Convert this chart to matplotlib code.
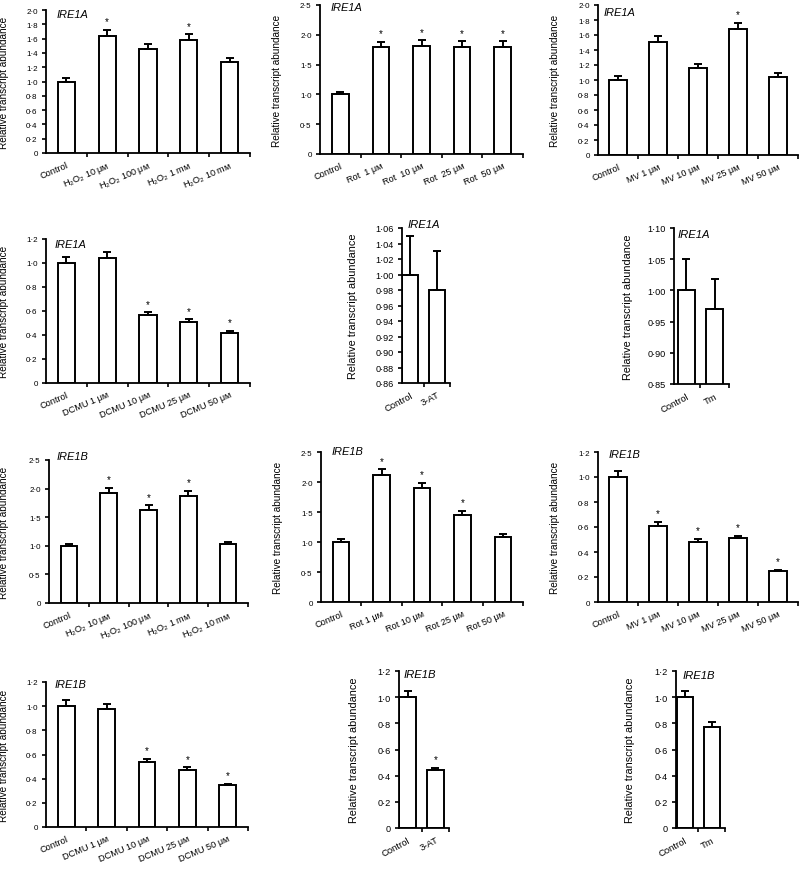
import matplotlib
matplotlib.use("Agg")
import matplotlib.pyplot as plt
from matplotlib.ticker import FixedLocator, FuncFormatter, NullFormatter

plt.rcParams['font.family'] = ['Liberation Sans', 'DejaVu Sans']
plt.rcParams['mathtext.fontset'] = 'custom'
plt.rcParams['mathtext.rm'] = 'Liberation Sans'
plt.rcParams['mathtext.it'] = 'Liberation Sans:italic'

# ---------------- data ----------------
h2o2_labels = ['Control', 'H$_2$O$_2$ 10 μᴍ', 'H$_2$O$_2$ 100 μᴍ', 'H$_2$O$_2$ 1 mᴍ', 'H$_2$O$_2$ 10 mᴍ']
rot_labels_a = ['Control', 'Rot  1 μᴍ', 'Rot  10 μᴍ', 'Rot  25 μᴍ', 'Rot  50 μᴍ']
rot_labels_b = ['Control', 'Rot 1 μᴍ', 'Rot 10 μᴍ', 'Rot 25 μᴍ', 'Rot 50 μᴍ']
mv_labels = ['Control', 'MV 1 μᴍ', 'MV 10 μᴍ', 'MV 25 μᴍ', 'MV 50 μᴍ']
dcmu_labels = ['Control', 'DCMU 1 μᴍ', 'DCMU 10 μᴍ', 'DCMU 25 μᴍ', 'DCMU 50 μᴍ']
at_labels = ['Control', '3-AT']
tm_labels = ['Control', 'Tm']

ire1a_h2o2 = [1.00, 1.64, 1.45, 1.58, 1.27]
ire1a_h2o2_err = [0.05, 0.08, 0.07, 0.08, 0.06]
ire1a_h2o2_sig = [0, 1, 0, 1, 0]

ire1a_rot = [1.00, 1.79, 1.82, 1.80, 1.80]
ire1a_rot_err = [0.04, 0.09, 0.09, 0.09, 0.09]
ire1a_rot_sig = [0, 1, 1, 1, 1]

ire1a_mv = [1.00, 1.51, 1.16, 1.68, 1.04]
ire1a_mv_err = [0.05, 0.08, 0.06, 0.08, 0.05]
ire1a_mv_sig = [0, 0, 0, 1, 0]

ire1a_dcmu = [1.00, 1.04, 0.565, 0.505, 0.415]
ire1a_dcmu_err = [0.05, 0.05, 0.025, 0.025, 0.02]
ire1a_dcmu_sig = [0, 0, 1, 1, 1]

ire1a_at = [1.00, 0.98]
ire1a_at_err = [0.05, 0.05]
ire1a_at_sig = [0, 0]

ire1a_tm = [1.00, 0.97]
ire1a_tm_err = [0.05, 0.048]
ire1a_tm_sig = [0, 0]

ire1b_h2o2 = [1.00, 1.92, 1.63, 1.87, 1.03]
ire1b_h2o2_err = [0.04, 0.09, 0.08, 0.09, 0.04]
ire1b_h2o2_sig = [0, 1, 1, 1, 0]

ire1b_rot = [1.00, 2.11, 1.90, 1.45, 1.08]
ire1b_rot_err = [0.05, 0.10, 0.09, 0.07, 0.05]
ire1b_rot_sig = [0, 1, 1, 1, 0]

ire1b_mv = [1.00, 0.61, 0.48, 0.51, 0.25]
ire1b_mv_err = [0.05, 0.03, 0.025, 0.02, 0.01]
ire1b_mv_sig = [0, 1, 1, 1, 1]

ire1b_dcmu = [1.00, 0.975, 0.54, 0.475, 0.345]
ire1b_dcmu_err = [0.05, 0.045, 0.025, 0.02, 0.015]
ire1b_dcmu_sig = [0, 0, 1, 1, 1]

ire1b_at = [1.00, 0.44]
ire1b_at_err = [0.05, 0.02]
ire1b_at_sig = [0, 1]

ire1b_tm = [1.00, 0.77]
ire1b_tm_err = [0.05, 0.04]
ire1b_tm_sig = [0, 0]

W, H = 800, 870
fig = plt.figure(figsize=(W / 100, H / 100), dpi=100)


def rect(x0, x1, yt, yb):
    return [x0 / W, 1 - yb / H, (x1 - x0) / W, (yb - yt) / H]


def fmt(dec):
    def f(v, pos):
        if abs(v) < 1e-9:
            return '0'
        return ('{:.%df}' % dec).format(v).replace('.', '·')
    return FuncFormatter(f)


def panel(r, title, labels, vals, errs, sig, ylim, ystep, dec, xlim, bw,
          tdx, tdy, ylab_x, rot=23, narrow=False):
    ax = fig.add_axes(rect(*r))
    n = len(vals)
    xs = list(range(n))
    tick_fs = 6.6 if narrow else 5.8
    xlab_fs = 6.8 if narrow else 6.6
    ylab_fs = 7.8 if narrow else 7.2
    title_fs = 8.1 if narrow else 7.9
    ax.bar(xs, vals, width=bw, color='white', edgecolor='black', linewidth=1.4, zorder=2)
    ax.errorbar(xs, vals, yerr=[[0] * n, errs], fmt='none', ecolor='black',
                elinewidth=1.4, capsize=3, capthick=1.4, zorder=3)
    for x, v, e, s in zip(xs, vals, errs, sig):
        if s:
            ax.annotate('*', xy=(x, v + e), xytext=(0, 2.5), textcoords='offset points',
                        ha='center', va='bottom', fontsize=7)
    ax.set_xlim(*xlim)
    ax.set_ylim(*ylim)
    nt = int(round((ylim[1] - ylim[0]) / ystep))
    ax.yaxis.set_major_locator(FixedLocator([ylim[0] + i * ystep for i in range(nt + 1)]))
    ax.yaxis.set_major_formatter(fmt(dec))
    bounds = [i + 0.5 for i in range(n - 1)] + [xlim[1]]
    ax.xaxis.set_major_locator(FixedLocator(bounds))
    ax.xaxis.set_major_formatter(NullFormatter())
    ax.xaxis.set_minor_locator(FixedLocator(xs))
    ax.set_xticklabels(labels, minor=True, rotation=rot, ha='right',
                       rotation_mode='anchor', fontsize=xlab_fs)
    ax.tick_params(axis='x', which='minor', length=0, pad=5)
    ax.tick_params(axis='x', which='major', length=3, width=1.2, direction='out')
    ax.tick_params(axis='y', which='major', length=3, width=1.2, direction='out',
                   labelsize=tick_fs, pad=3)
    for s in ['top', 'right']:
        ax.spines[s].set_visible(False)
    for s in ['left', 'bottom']:
        ax.spines[s].set_linewidth(1.3)
    ax.set_ylabel('Relative transcript abundance', fontsize=ylab_fs)
    ax.yaxis.set_label_coords((ylab_x - r[0]) / (r[1] - r[0]), 0.5)
    ax.annotate(title, xy=(0, 1), xycoords='axes fraction',
                xytext=(tdx * 0.72, tdy * 0.72), textcoords='offset points',
                ha='left', va='center', fontsize=title_fs, style='italic')
    return ax


five = (-0.5, 4.5)
panel((46, 250, 11, 154), 'IRE1A', h2o2_labels, ire1a_h2o2, ire1a_h2o2_err, ire1a_h2o2_sig,
      (0, 2.0), 0.2, 1, five, 0.42, 10.7, -4.3, 9)
panel((320, 523, 6, 155), 'IRE1A', rot_labels_a, ire1a_rot, ire1a_rot_err, ire1a_rot_sig,
      (0, 2.5), 0.5, 1, five, 0.41, 10.7, -2.3, 282)
panel((598, 798, 6, 156), 'IRE1A', mv_labels, ire1a_mv, ire1a_mv_err, ire1a_mv_sig,
      (0, 2.0), 0.2, 1, five, 0.43, 5.3, -7, 560)
panel((46, 250, 240, 384), 'IRE1A', dcmu_labels, ire1a_dcmu, ire1a_dcmu_err, ire1a_dcmu_sig,
      (0, 1.2), 0.2, 1, five, 0.42, 9, -5, 9)
panel((402, 450, 229, 384), 'IRE1A', at_labels, ire1a_at, ire1a_at_err, ire1a_at_sig,
      (0.86, 1.06), 0.02, 2, (-0.3, 1.47), 0.59, 6, 4, 357.7, rot=28, narrow=True)
panel((674, 729, 229, 385), 'IRE1A', tm_labels, ire1a_tm, ire1a_tm_err, ire1a_tm_sig,
      (0.85, 1.10), 0.05, 2, (-0.43, 1.51), 0.61, 4, -6, 633.3, rot=28, narrow=True)
panel((49, 248, 461, 604), 'IRE1B', h2o2_labels, ire1b_h2o2, ire1b_h2o2_err, ire1b_h2o2_sig,
      (0, 2.5), 0.5, 1, five, 0.42, 7.7, 4, 9)
panel((321, 523, 453, 603), 'IRE1B', rot_labels_b, ire1b_rot, ire1b_rot_err, ire1b_rot_sig,
      (0, 2.5), 0.5, 1, five, 0.41, 10.7, 1, 282.7)
panel((598, 798, 453, 603), 'IRE1B', mv_labels, ire1b_mv, ire1b_mv_err, ire1b_mv_sig,
      (0, 1.2), 0.2, 1, five, 0.43, 11, -2, 560)
panel((46, 248, 683, 828), 'IRE1B', dcmu_labels, ire1b_dcmu, ire1b_dcmu_err, ire1b_dcmu_sig,
      (0, 1.2), 0.2, 1, five, 0.42, 8.3, -2, 9)
panel((399, 449, 672, 829), 'IRE1B', at_labels, ire1b_at, ire1b_at_err, ire1b_at_sig,
      (0, 1.2), 0.2, 1, (-0.31, 1.49), 0.59, 4.3, -3, 359, rot=28, narrow=True)
panel((676, 725, 672, 829), 'IRE1B', tm_labels, ire1b_tm, ire1b_tm_err, ire1b_tm_sig,
      (0, 1.2), 0.2, 1, (-0.32, 1.49), 0.59, 6.3, -3.7, 635, rot=28, narrow=True)

fig.savefig('out.png', dpi=100)
